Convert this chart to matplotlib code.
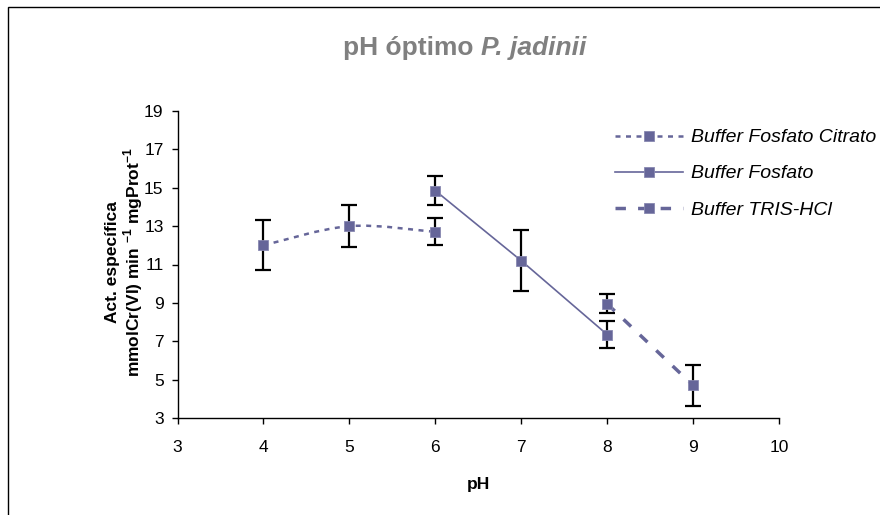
import matplotlib
matplotlib.use("Agg")
import matplotlib.pyplot as plt
from matplotlib.path import Path
from matplotlib.patches import PathPatch, Rectangle
from matplotlib.lines import Line2D

plt.rcParams['font.family'] = ['Liberation Sans', 'DejaVu Sans']
plt.rcParams['mathtext.fontset'] = 'custom'
plt.rcParams['mathtext.bf'] = 'Liberation Sans:bold'
plt.rcParams['mathtext.rm'] = 'Liberation Sans'

# data
ph_citrato = [4, 5, 6]
act_citrato = [12.0, 13.0, 12.7]
err_citrato = [1.3, 1.1, 0.7]

ph_fosfato = [6, 7, 8]
act_fosfato = [14.85, 11.2, 7.35]
err_fosfato = [0.75, 1.6, 0.7]

ph_tris = [8, 9]
act_tris = [8.95, 4.7]
err_tris = [0.5, 1.05]

labels = ["Buffer Fosfato Citrato", "Buffer Fosfato", "Buffer TRIS-HCl"]
color = "#666699"

W, H = 880, 515
fig = plt.figure(figsize=(W / 100, H / 100), dpi=100)
ax = fig.add_axes([177.5 / W, 1 - 418 / H, (779 - 177.5) / W, (418 - 111) / H])

# outer chart border (only left/top visible in the crop)
fig.add_artist(Rectangle((8 / W, -0.1), 1.2, 1 - 7 / H + 0.1, transform=fig.transFigure,
                         fill=False, edgecolor="black", linewidth=1.0, clip_on=False))


def smooth_path(xs, ys):
    # Excel-like smoothed line: cubic bezier segments (Catmull-Rom control points)
    px = [xs[0]] + list(xs) + [xs[-1]]
    py = [ys[0]] + list(ys) + [ys[-1]]
    verts = [(xs[0], ys[0])]
    codes = [Path.MOVETO]
    for i in range(1, len(xs)):
        c1 = (px[i] + (px[i + 1] - px[i - 1]) / 6, py[i] + (py[i + 1] - py[i - 1]) / 6)
        c2 = (px[i + 1] - (px[i + 2] - px[i]) / 6, py[i + 1] - (py[i + 2] - py[i]) / 6)
        verts += [c1, c2, (px[i + 1], py[i + 1])]
        codes += [Path.CURVE4] * 3
    return Path(verts, codes)


ls_citrato = (0, (2, 2.2))
ls_tris = (0, (3, 3.5))
mk = dict(marker="s", markersize=7.5, markerfacecolor=color, markeredgecolor="#8888b0",
          markeredgewidth=0.6)

ax.add_patch(PathPatch(smooth_path(ph_citrato, act_citrato), fill=False, edgecolor=color,
                       linewidth=1.8, linestyle=ls_citrato, zorder=2))
ax.plot(ph_fosfato, act_fosfato, color=color, linewidth=1.2, zorder=2)
ax.plot(ph_tris, act_tris, color=color, linewidth=2.5, linestyle=ls_tris, zorder=2)

for xs, ys, es in [(ph_citrato, act_citrato, err_citrato),
                   (ph_fosfato, act_fosfato, err_fosfato),
                   (ph_tris, act_tris, err_tris)]:
    ax.errorbar(xs, ys, yerr=es, fmt="none", ecolor="black", elinewidth=1.6,
                capsize=5.5, capthick=1.6, zorder=3)
    ax.plot(xs, ys, linestyle="none", zorder=4, **mk)

ax.set_xlim(3, 10)
ax.set_ylim(3, 19)
ax.set_xticks(range(3, 11))
ax.set_yticks(range(3, 20, 2))
ax.tick_params(direction="out", length=4, width=1, labelsize=12.5)
ax.tick_params(axis="x", pad=12)
ax.tick_params(axis="y", pad=6)
for side in ["top", "right"]:
    ax.spines[side].set_visible(False)
for side in ["left", "bottom"]:
    ax.spines[side].set_linewidth(1.0)

fig.text(478 / W, 1 - 484 / H, "pH", fontsize=12.5, fontweight="bold", ha="center", va="center")
fig.text(112 / W, 1 - 262 / H, "Act. específica", fontsize=12.5, fontweight="bold",
         rotation=90, ha="center", va="center")
fig.text(133 / W, 1 - 262 / H,
         r"mmolCr(VI) min $^{\mathbf{-1}}$ mgProt$^{\mathbf{-1}}$", fontsize=12.5,
         fontweight="bold", rotation=90, ha="center", va="center")

title_y = 1 - 48 / H
fig.text(343 / W, title_y, "pH óptimo ", fontsize=19, fontweight="bold", color="#808080",
         va="center", ha="left")
fig.canvas.draw()
r = fig.texts[-1].get_window_extent()
fig.text(r.x1 / W, title_y, "P. jadinii", fontsize=19, fontweight="bold", style="italic",
         color="#808080", va="center", ha="left")

handles = [
    Line2D([], [], color=color, linewidth=1.8, linestyle=ls_citrato, **mk),
    Line2D([], [], color=color, linewidth=1.2, **mk),
    Line2D([], [], color=color, linewidth=2.5, linestyle=ls_tris, **mk),
]
fig.legend(handles, labels, loc="upper left", bbox_to_anchor=(607 / W, 1 - 121 / H),
           frameon=False, prop={"size": 14, "style": "italic"}, handlelength=3.5,
           handletextpad=0.4, labelspacing=0.95, borderaxespad=0)

fig.savefig("out.png", dpi=100)
